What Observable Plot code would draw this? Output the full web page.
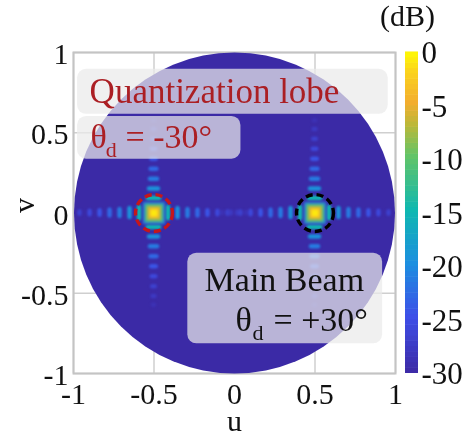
<!DOCTYPE html>
<html><head><meta charset="utf-8">
<script src="https://cdn.jsdelivr.net/npm/d3@7"></script>
<script src="https://cdn.jsdelivr.net/npm/@observablehq/plot@0.6"></script>
<style>
html,body{margin:0;padding:0;background:#fff}
#wrap{position:relative;width:468px;height:436px;overflow:hidden}
#wrap svg{position:absolute;top:0;background:transparent;overflow:visible}
#unit{position:absolute;left:380px;top:-1px;font:30px "Liberation Serif";color:#111;filter:blur(.4px)}
</style></head><body><div id="wrap"><div id="unit">(dB)</div></div>
<script>
const ticks = [-1, -0.5, 0, 0.5, 1];
const dbTicks = [0, -5, -10, -15, -20, -25, -30];
const dbDomain = [-30, -25, -20, -15, -10, -7, -5, -2, 0];
const dbColors = ["#3d2ba8", "#3d4fe8", "#1c8fe0", "#0fb8b0", "#62c468", "#bdb838", "#f2ad2e", "#fbd41c", "#ffff00"];
const beamU = [-0.5, 0.5];
const beamColors = ["#c4161c", "#000000"];
const coreRadius = [0.078, 0.064, 0.052, 0.04, 0.026];
const coreDb = [-21, -12, -8, -5, -1];
const lobeOffset = [0.09, 0.149, 0.211, 0.273, 0.335, 0.397, 0.46, 0.52, 0.575];
const lobeDb = [-15, -19.5, -21.5, -23, -24.5, -26, -27, -28, -29];
const lobeSpan = [0.05, 0.042, 0.036, 0.032, 0.028, 0.025, 0.022, 0.02, 0.018];
const boxes = [
  {x1: -0.975, x2: 0.955, y1: 0.615, y2: 0.895},
  {x1: -0.975, x2: 0.04, y1: 0.335, y2: 0.602},
  {x1: -0.29, x2: 0.92, y1: -0.815, y2: -0.25}
];
const unitDisc = [1];

const lobes = beamU.flatMap(u => lobeOffset.flatMap((o, i) => {
  const t = 0.014, s = lobeSpan[i], db = lobeDb[i];
  const horiz = [-1, 1].filter(d => Math.abs(u + d * o) < 0.99).map(d => ({x: u + d * o, y: 0, hx: t, hy: s, db}));
  const vert = [-1, 1].map(d => ({x: u, y: d * o, hx: s, hy: t, db}));
  return horiz.concat(vert);
}));
const core = beamU.flatMap(u => coreRadius.map((r, i) => ({x: u, y: 0, r, db: coreDb[i]})));

const color = {type: "linear", domain: dbDomain, range: dbColors, interpolate: "rgb"};
const serif = "Liberation Serif";
const soft = "blur(0.5px)";
const red = "#ab1f24", ink = "#111";
const label = (s, u, v, size, fill) => Plot.text([s], {x: () => u, y: () => v, text: d => d, textAnchor: "start", fontSize: size, fill, imageFilter: soft});

const main = Plot.plot({
  width: 468, height: 436,
  marginLeft: 73, marginRight: 73, marginTop: 52, marginBottom: 63,
  style: {fontFamily: serif, background: "transparent"},
  x: {domain: [-1, 1]},
  y: {domain: [-1, 1]},
  r: {type: "linear", domain: [0, 1], range: [0, 160.5]},
  color,
  marks: [
    Plot.ruleX(ticks, {stroke: "#cfcfcf", strokeWidth: 1.5}),
    Plot.ruleY(ticks, {stroke: "#cfcfcf", strokeWidth: 1.5}),
    Plot.frame({stroke: "#c4c4c4", strokeWidth: 2}),
    Plot.dot(unitDisc, {x: () => 0, y: () => 0, r: d => d, fill: "#3b2aa6"}),
    Plot.rect(lobes, {
      x1: d => d.x - d.hx, x2: d => d.x + d.hx,
      y1: d => d.y - d.hy, y2: d => d.y + d.hy,
      fill: "db", rx: 2.5, imageFilter: "blur(0.8px)"
    }),
    Plot.dot(core, {x: "x", y: "y", r: "r", symbol: "square", fill: "db", imageFilter: "blur(1.5px)"}),
    Plot.dot(beamU, {
      x: d => d, y: () => 0, r: () => 0.115, fill: "none",
      stroke: (d, i) => beamColors[i], strokeWidth: 3.4, strokeDasharray: "7,4"
    }),
    Plot.rect(boxes, {x1: "x1", x2: "x2", y1: "y1", y2: "y2", fill: "#eaeaea", fillOpacity: 0.72, rx: 9}),
    label("Quantization lobe", -0.9, 0.755, 35, red),
    label("θ", -0.894, 0.47, 34, red),
    label("d", -0.80, 0.39, 22, red),
    label("= -30°", -0.677, 0.47, 34, red),
    label("Main Beam", -0.186, -0.42, 34, ink),
    label("θ", 0.006, -0.67, 34, ink),
    label("d", 0.112, -0.75, 22, ink),
    label("= +30°", 0.242, -0.67, 34, ink),
    Plot.axisX(ticks, {tickSize: 0, tickPadding: 9, fontSize: 30, tickFormat: String, label: null, color: ink, imageFilter: soft}),
    Plot.axisY(ticks, {tickSize: 0, tickPadding: 5, fontSize: 30, dy: 2, tickFormat: String, label: null, color: ink, imageFilter: soft}),
    Plot.text(["u"], {x: () => 0, frameAnchor: "bottom", dy: 57, text: d => d, fontSize: 30, fill: ink, imageFilter: soft}),
    Plot.text(["v"], {y: () => 0, frameAnchor: "left", dx: -49, rotate: -90, text: d => d, fontSize: 30, fill: ink, imageFilter: soft})
  ]
});
main.style.left = "0px";

const levels = d3.range(-30, 0, 0.5);
const bar = Plot.plot({
  width: 73, height: 436,
  marginLeft: 10, marginRight: 50, marginTop: 52, marginBottom: 63,
  style: {fontFamily: serif, background: "transparent"},
  x: {axis: null},
  y: {domain: [-30, 0]},
  color,
  marks: [
    Plot.rectY(levels, {y1: d => d, y2: d => d + 0.55, fill: d => d}),
    Plot.axisY(dbTicks, {anchor: "right", tickSize: 0, tickPadding: 3, fontSize: 31, dy: 1, tickFormat: String, label: null, color: ink, imageFilter: soft})
  ]
});
bar.style.left = "395px";
document.getElementById("wrap").append(main, bar);
</script></body></html>
